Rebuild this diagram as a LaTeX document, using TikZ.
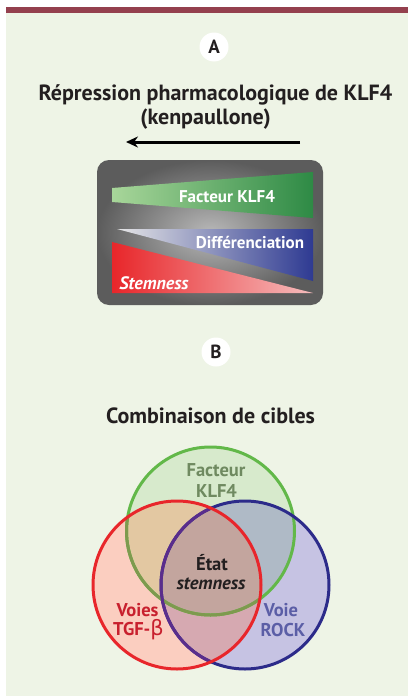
\documentclass[tikz,border=0pt]{standalone}
\usepackage{fontspec}
\setmainfont{PT Sans}
\newfontfamily\grkfont{DejaVu Sans}
\usetikzlibrary{arrows.meta}
\definecolor{bg}{HTML}{EEF4E6}
\definecolor{bar}{HTML}{94404E}
\definecolor{txt}{HTML}{231F20}
\definecolor{boxin}{HTML}{B8B8B8}
\definecolor{boxout}{HTML}{5C5C5C}
\definecolor{gL}{HTML}{A8D69A}
\definecolor{gR}{HTML}{2E8A45}
\definecolor{bL}{HTML}{E6E6E6}
\definecolor{bR}{HTML}{2E3A92}
\definecolor{rL}{HTML}{E8262A}
\definecolor{rR}{HTML}{F6BDBD}
\definecolor{fG}{HTML}{D7EACC}
\definecolor{fR}{HTML}{FBCEC0}
\definecolor{fB}{HTML}{C6C3E3}
\definecolor{fRG}{HTML}{E3C8A2}
\definecolor{fGB}{HTML}{AFBAC6}
\definecolor{fRB}{HTML}{D6A9B1}
\definecolor{fRGB}{HTML}{C3A59E}
\definecolor{sG}{HTML}{62B849}
\definecolor{sGin}{HTML}{7E9A4E}
\definecolor{sR}{HTML}{E8262B}
\definecolor{sB}{HTML}{2C2B8A}
\definecolor{sBin}{HTML}{5A2D8C}
\definecolor{tG}{HTML}{6F8A60}
\definecolor{tR}{HTML}{C8202E}
\definecolor{tB}{HTML}{5B5EA6}
\tikzset{
  heading/.style={font=\bfseries\fontsize{22}{26}\selectfont, text=txt, inner sep=0pt},
  badge/.style={circle, fill=white, minimum size=29pt, inner sep=0pt, font=\bfseries\fontsize{19}{22}\selectfont, text=txt},
  boxlabel/.style={font=\bfseries\fontsize{17}{20}\selectfont, text=white, inner sep=0pt},
  venn/.style={font=\bfseries\fontsize{18.5}{22}\selectfont, inner sep=0pt},
  ring/.style={line width=3pt},
}
\begin{document}
\begin{tikzpicture}[x=1pt,y=-1pt]
\useasboundingbox (0,0) rectangle (408,696);
\fill[white] (0,0) rectangle (408,696);
\fill[bg] (6,13) rectangle (408,696);
\fill[bar] (6,7) rectangle (408,13);

% Section A
\node[badge] (badgeA) at (214,47) {A};
\node[heading] (titleA1) at (215.5,95) {Répression pharmacologique de KLF4};
\node[heading] (titleA2) at (205.5,119) {(kenpaullone)};
\coordinate (arrS) at (300,142);
\coordinate (arrE) at (126,142);
\draw[line width=3pt, -{Stealth[length=12pt,width=11pt]}] (arrS) -- (arrE);

\shade[rounded corners=12pt, inner color=boxin, outer color=boxout] (97,160) rectangle (323,305);
\shade[left color=gL, right color=gR] (112,188) -- (313,172) -- (313,218) -- (112,202) -- cycle;
\shade[left color=bL, right color=bR] (117,229) -- (313,229) -- (313,281) -- cycle;
\shade[left color=rL, right color=rR] (112,242) -- (112,293) -- (313,293) -- cycle;
\node[boxlabel] (lklf) at (227,197) {Facteur KLF4};
\node[boxlabel] (ldiff) at (250,242) {Différenciation};
\node[boxlabel, font=\bfseries\itshape\fontsize{18}{20}\selectfont] (lstem) at (154,283) {Stemness};

% Section B
\node[badge] (badgeB) at (216,352) {B};
\node[heading] (titleB) at (210.5,416) {Combinaison de cibles};

\coordinate (cG) at (210.5,531);
\coordinate (cR) at (177,585);
\coordinate (cB) at (245,585);
\fill[fG] (cG) circle (84pt);
\fill[fR] (cR) circle (84pt);
\fill[fB] (cB) circle (84pt);
\begin{scope}
  \clip (cR) circle (84pt);
  \fill[fRG] (cG) circle (84pt);
  \fill[fRB] (cB) circle (84pt);
\end{scope}
\begin{scope}
  \clip (cG) circle (84pt);
  \fill[fGB] (cB) circle (84pt);
  \clip (cR) circle (84pt);
  \fill[fRGB] (cB) circle (84pt);
\end{scope}
\draw[ring, sG] (cG) circle (84pt);
\draw[ring, sB] (cB) circle (84pt);
\begin{scope}
  \clip (cR) circle (84pt);
  \draw[ring, sGin] (cG) circle (84pt);
  \draw[ring, sBin] (cB) circle (84pt);
\end{scope}
\draw[ring, sR] (cR) circle (84pt);

\node[venn, text=tG] (vG1) at (216,470) {Facteur};
\node[venn, text=tG] (vG2) at (216.5,491) {KLF4};
\node[venn, text=txt] (vC1) at (212,563) {État};
\node[venn, text=txt, font=\bfseries\itshape\fontsize{18.5}{22}\selectfont] (vC2) at (211,584) {stemness};
\node[venn, text=tR] (vR1) at (137.5,610) {Voies};
\node[venn, text=tR] (vR2) at (138.5,630) {TGF-{\grkfont\mdseries\fontsize{21}{22}\selectfont β}};
\node[venn, text=tB] (vB1) at (281,610) {Voie};
\node[venn, text=tB] (vB2) at (283,630) {ROCK};
\end{tikzpicture}
\end{document}
